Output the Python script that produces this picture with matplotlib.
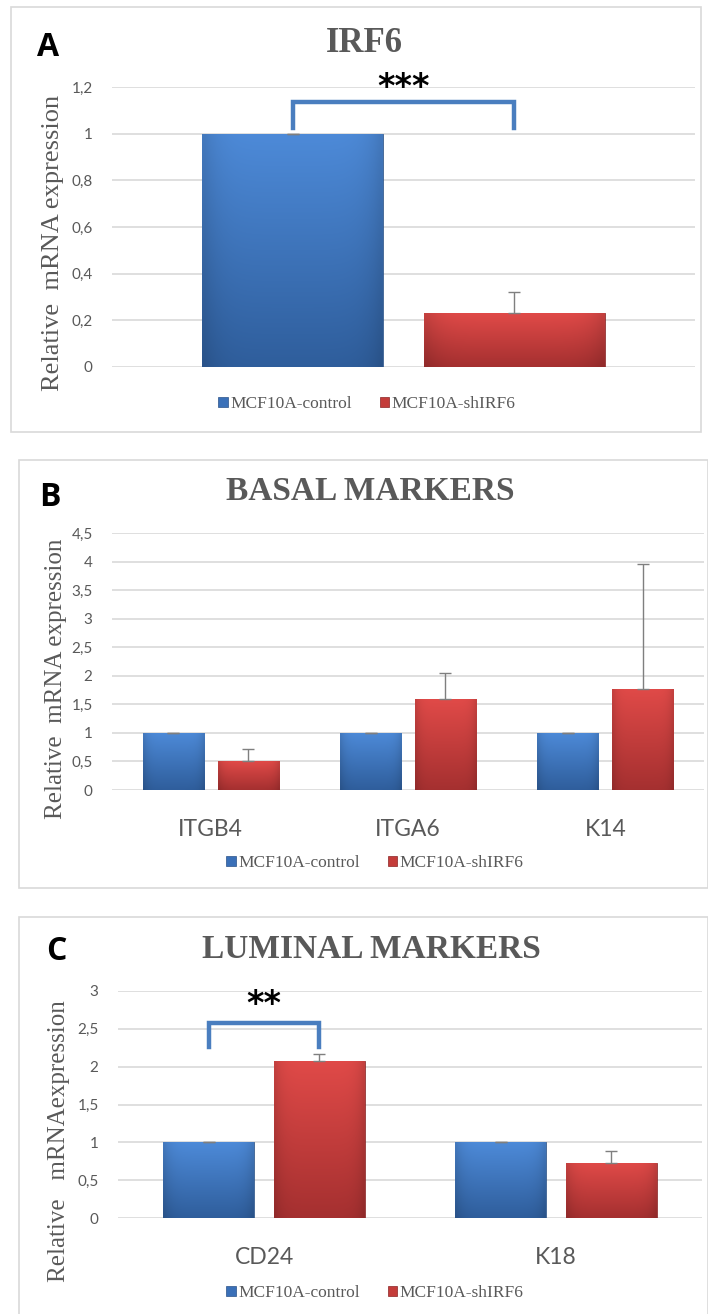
import numpy as np
import matplotlib
matplotlib.use("Agg")
import matplotlib.pyplot as plt
from matplotlib.patches import Patch, Rectangle
from matplotlib.colors import to_rgb
from matplotlib.ticker import FuncFormatter

# data
series = ["MCF10A-control", "MCF10A-shIRF6"]

irf6_labels = [""]
irf6_control = [1.0]
irf6_control_err = [0.0]
irf6_sh = [0.23]
irf6_sh_err = [0.09]

basal_labels = ["ITGB4", "ITGA6", "K14"]
basal_control = [1.0, 1.0, 1.0]
basal_control_err = [0.0, 0.0, 0.0]
basal_sh = [0.50, 1.59, 1.77]
basal_sh_err = [0.22, 0.45, 2.19]

luminal_labels = ["CD24", "K18"]
luminal_control = [1.0, 1.0]
luminal_control_err = [0.0, 0.0]
luminal_sh = [2.08, 0.73]
luminal_sh_err = [0.09, 0.16]

W, H = 708, 1314
GRAY = "#595959"
BLUE_TOP, BLUE_BOT = "#4d8ad8", "#2f5e9c"
RED_TOP, RED_BOT = "#e04a48", "#a53030"
BRACKET = "#4a7ebf"
SERIF = "Liberation Serif"
SANS = "Lato"


def fx(x):
    return x / W


def fy(y):
    return 1 - y / H


def gradient_fill(ax, bars, top, bot):
    t = np.array(to_rgb(top))
    b = np.array(to_rgb(bot))
    v = np.linspace(0, 1, 60)[:, None, None]
    h = np.linspace(-1, 1, 30)[None, :, None]
    img = t * (1 - v) + b * v
    img = img * (1 - 0.12 * np.abs(h) ** 6)
    img = np.clip(img, 0, 1)
    for bar in bars:
        x, y0 = bar.get_x(), bar.get_y()
        w, hh = bar.get_width(), bar.get_height()
        im = ax.imshow(img, extent=[x, x + w, y0, y0 + hh], aspect="auto",
                       origin="upper", zorder=2, interpolation="bilinear")
        im.set_clip_path(bar)
        bar.set_facecolor("none")


def panel(box, ax_box, labels, ctrl, ctrl_err, sh, sh_err, ymax, ystep,
          title, title_xy, letter, letter_xy, ylabel, ylabel_xy, ylabel_size,
          legend_xy, title_size):
    fig.add_artist(Rectangle((fx(box[0]), fy(box[3])), fx(box[2] - box[0]),
                             (box[3] - box[1]) / H, transform=fig.transFigure,
                             fill=False, edgecolor="#d9d9d9", lw=1.2))
    left, top, right, bottom = ax_box
    ax = fig.add_axes([fx(left), fy(bottom), fx(right - left), (bottom - top) / H])
    x = np.arange(len(labels))
    width, off = 0.31, 0.19
    b1 = ax.bar(x - off, ctrl, width, yerr=ctrl_err, color=BLUE_TOP,
                edgecolor="#2a5288", lw=0.6, zorder=2,
                error_kw=dict(ecolor="#7f7f7f", lw=1, capsize=4, capthick=1))
    b2 = ax.bar(x + off, sh, width, yerr=[np.zeros(len(sh)), sh_err], color=RED_TOP,
                edgecolor="#8a2424", lw=0.6, zorder=2,
                error_kw=dict(ecolor="#7f7f7f", lw=1, capsize=4, capthick=1))
    gradient_fill(ax, b1, BLUE_TOP, BLUE_BOT)
    gradient_fill(ax, b2, RED_TOP, RED_BOT)
    ax.set_xlim(-0.5, len(labels) - 0.5)
    ax.set_ylim(0, ymax)
    ax.set_yticks(np.arange(0, ymax + 1e-9, ystep))
    ax.yaxis.set_major_formatter(FuncFormatter(lambda v, p: f"{v:g}".replace(".", ",")))
    ax.grid(axis="y", color="#d9d9d9", lw=1.2, zorder=0)
    ax.set_axisbelow(True)
    for s in ax.spines.values():
        s.set_visible(False)
    ax.tick_params(axis="y", length=0, pad=14, labelsize=11, labelcolor=GRAY)
    ax.tick_params(axis="x", length=0, pad=21, labelsize=16.5, labelcolor=GRAY)
    ax.set_xticks(x)
    ax.set_xticklabels(labels)
    for t in ax.get_xticklabels() + ax.get_yticklabels():
        t.set_family(SANS)
    fig.text(fx(title_xy[0]), fy(title_xy[1]), title, family=SERIF, weight="bold",
             size=title_size, color=GRAY, ha="center", va="center")
    fig.text(fx(letter_xy[0]), fy(letter_xy[1]), letter, family="Open Sans",
             weight="bold", size=23, color="black", ha="center", va="center")
    fig.text(fx(ylabel_xy[0]), fy(ylabel_xy[1]), ylabel, family=SERIF,
             size=ylabel_size, color=GRAY, rotation=90, ha="center", va="center")
    handles = [Patch(facecolor="#3a70b8", edgecolor="#2a5288", lw=0.5),
               Patch(facecolor="#c43c3a", edgecolor="#8a2424", lw=0.5)]
    fig.legend(handles, series, loc="center", ncol=2, frameon=False,
               bbox_to_anchor=(fx(legend_xy[0]), fy(legend_xy[1])),
               prop=dict(family=SERIF, size=12.5), labelcolor=GRAY,
               handlelength=0.55, handleheight=0.55, handletextpad=0.15,
               columnspacing=1.6)
    return ax


fig = plt.figure(figsize=(W / 100, H / 100), dpi=100)

# A
axA = panel((11, 7, 701, 432), (112, 87, 695, 367), irf6_labels, irf6_control,
            irf6_control_err, irf6_sh, irf6_sh_err, 1.2, 0.2,
            "IRF6", (364, 44), "A", (48, 48), "Relative  mRNA expression",
            (53, 243), 19, (367, 404), 25)
bx = [-0.19, 0.19]
axA.plot([bx[0], bx[0], bx[1], bx[1]], [1.024, 1.136, 1.136, 1.024],
         color=BRACKET, lw=3.2, solid_joinstyle="miter", clip_on=False, zorder=3)
axA.text(0.0, 1.20, "***", ha="center", va="center", fontsize=24,
         weight="bold", family="DejaVu Sans", clip_on=False)

# B
panel((19, 460, 708, 888), (112, 533, 704, 790), basal_labels, basal_control,
      basal_control_err, basal_sh, basal_sh_err, 4.5, 0.5,
      "BASAL MARKERS", (370, 492), "B", (50, 497), "Relative  mRNA expression",
      (56, 679), 18, (375, 863), 24)

# C
axC = panel((19, 917, 708, 1320), (118, 991, 702, 1218), luminal_labels,
            luminal_control, luminal_control_err, luminal_sh, luminal_sh_err,
            3.0, 0.5, "LUMINAL MARKERS", (371, 950), "C", (56, 952),
            "Relative   mRNAexpression", (59, 1141), 18, (375, 1293), 24)
axC.plot([bx[0], bx[0], bx[1], bx[1]], [2.26, 2.577, 2.577, 2.26],
         color=BRACKET, lw=3.2, solid_joinstyle="miter", clip_on=False, zorder=3)
axC.text(0.0, 2.82, "**", ha="center", va="center", fontsize=24,
         weight="bold", family="DejaVu Sans", clip_on=False)

fig.savefig("out.png", dpi=100)
